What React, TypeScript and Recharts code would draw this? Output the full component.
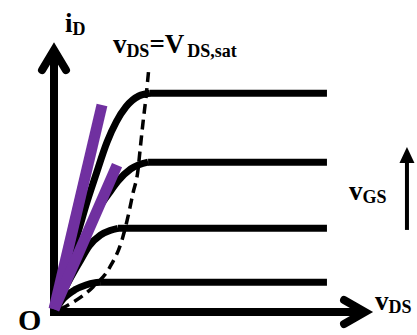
import React from "react";
import {
  ComposedChart,
  Line,
  XAxis,
  YAxis,
  ReferenceLine,
  ReferenceDot,
} from "recharts";

const WIDTH = 417;
const HEIGHT = 335;

// i_D level reached by each gate-voltage step, and the v_DS where it saturates
const satCurrents = [8.1, 5.55, 3.1, 1.1];
const satVoltages = [3.0, 2.94, 2.0, 1.44];
const vdsMax = 8.53;

// triode region of each curve, [v_DS, i_D]
const triode1 = [[0, 0], [0.35, 1.45], [0.75, 2.95], [1.05, 4.15], [1.3, 5.05], [1.66, 6.3], [1.95, 7.05], [2.25, 7.6], [2.65, 8.0]];
const triode2 = [[0, 0], [0.5, 1.55], [1.0, 2.9], [1.4, 3.85], [1.75, 4.45], [2.0, 4.85], [2.4, 5.3]];
const triode3 = [[0, 0], [0.4, 1.0], [0.8, 1.85], [1.1, 2.45], [1.45, 2.85], [1.75, 3.02]];
const triode4 = [[0, 0], [0.3, 0.5], [0.65, 0.82], [1.0, 1.0], [1.25, 1.08]];

// v_DS = V_DS,sat boundary
const satBoundary = [[0.2, 0.1], [0.34, 0.19], [1.22, 0.93], [1.75, 1.67], [2.125, 2.67], [2.31, 3.52], [2.47, 4.41], [2.625, 5.26], [2.69, 6.0], [2.78, 7.0], [2.875, 7.96], [2.97, 9.11]];

// small-signal resistance lines near the origin
const rdsLow = [[0, 0.1], [1.5, 7.67]];
const rdsHigh = [[0, 0.1], [1.97, 5.44]];

const toPoints = (pts: number[][]) => pts.map(([x, y]) => ({ x, y }));

const triodeCurves = [triode1, triode2, triode3, triode4].map((t, i) => [
  ...toPoints(t),
  { x: satVoltages[i], y: satCurrents[i] },
]);
const satLines = satCurrents.map((c, i) => [
  { x: satVoltages[i], y: c },
  { x: vdsMax, y: c },
]);

const FONT = "'Liberation Serif', 'Times New Roman', serif";
const PURPLE = "#7030A0";

const textProps = {
  fontFamily: FONT,
  fontWeight: "bold" as const,
  fill: "#000",
  fontSize: 27,
};

const SUB = 18;

function ArrowUp(p: any) {
  const { cx, cy } = p;
  return (
    <polyline
      points={`${cx - 12},${cy + 20} ${cx},${cy} ${cx + 12},${cy + 20}`}
      fill="none"
      stroke="#000"
      strokeWidth={8}
      strokeLinecap="round"
      strokeLinejoin="miter"
    />
  );
}

function ArrowRight(p: any) {
  const { cx, cy } = p;
  return (
    <polyline
      points={`${cx - 21},${cy - 12} ${cx},${cy} ${cx - 21},${cy + 12}`}
      fill="none"
      stroke="#000"
      strokeWidth={8}
      strokeLinecap="round"
      strokeLinejoin="miter"
    />
  );
}

function Head(p: any) {
  const { cx, cy } = p;
  return <polygon points={`${cx},${cy} ${cx - 7.5},${cy + 16} ${cx + 7.5},${cy + 16}`} fill="#000" />;
}

const lineCommon = {
  dataKey: "y",
  dot: false,
  activeDot: false,
  isAnimationActive: false,
} as const;

export default function App() {
  return (
    <div style={{ position: "absolute", left: 0, top: 0, width: WIDTH, height: HEIGHT, background: "#fff" }}>
      <ComposedChart
        width={WIDTH}
        height={HEIGHT}
        margin={{ top: 42, right: 43, bottom: 23, left: 54 }}
      >
        <XAxis type="number" dataKey="x" domain={[0, 10]} hide />
        <YAxis type="number" dataKey="y" domain={[0, 10]} hide />

        {/* axes */}
        <ReferenceLine segment={[{ x: -0.125, y: 0 }, { x: 9.72, y: 0 }]} stroke="#000" strokeWidth={8} ifOverflow="visible" />
        <ReferenceLine segment={[{ x: 0, y: -0.15 }, { x: 0, y: 9.7 }]} stroke="#000" strokeWidth={8} ifOverflow="visible" />
        <ReferenceDot x={0} y={9.7} r={0} ifOverflow="visible" shape={ArrowUp} />
        <ReferenceDot x={9.72} y={0} r={0} ifOverflow="visible" shape={ArrowRight} />

        {triodeCurves.map((c, i) => (
          <Line key={`t${i}`} {...lineCommon} data={c} type="monotone" stroke="#000" strokeWidth={7} />
        ))}
        {satLines.map((c, i) => (
          <Line key={`s${i}`} {...lineCommon} data={c} type="linear" stroke="#000" strokeWidth={7} />
        ))}

        <Line
          {...lineCommon}
          data={toPoints(satBoundary)}
          type="monotone"
          stroke="#000"
          strokeWidth={3.5}
          strokeDasharray="10 6"
        />

        {[rdsLow, rdsHigh].map((r, i) => (
          <Line key={`r${i}`} {...lineCommon} data={toPoints(r)} type="linear" stroke={PURPLE} strokeWidth={11} />
        ))}

        {/* v_GS direction arrow */}
        <ReferenceLine segment={[{ x: 11.03, y: 3.04 }, { x: 11.03, y: 5.55 }]} stroke="#000" strokeWidth={4} ifOverflow="visible" />
        <ReferenceDot x={11.03} y={6.11} r={0} ifOverflow="visible" shape={Head} />

        {/* labels */}
        <ReferenceDot
          x={0.34}
          y={10.37}
          r={0}
          ifOverflow="visible"
          shape={(p: any) => (
            <text x={p.cx} y={p.cy} {...textProps}>
              <tspan>i</tspan>
              <tspan fontSize={SUB} dy={3}>D</tspan>
            </text>
          )}
        />
        <ReferenceDot
          x={1.84}
          y={9.59}
          r={0}
          ifOverflow="visible"
          shape={(p: any) => (
            <text x={p.cx} y={p.cy} {...textProps}>
              <tspan>v</tspan>
              <tspan fontSize={SUB} dy={4}>DS</tspan>
              <tspan dy={-4}>=V</tspan>
              <tspan fontSize={SUB} dy={4} dx={3}>DS,sat</tspan>
            </text>
          )}
        />
        <ReferenceDot
          x={9.22}
          y={4.15}
          r={0}
          ifOverflow="visible"
          shape={(p: any) => (
            <text x={p.cx} y={p.cy} {...textProps}>
              <tspan>v</tspan>
              <tspan fontSize={SUB} dy={3}>GS</tspan>
            </text>
          )}
        />
        <ReferenceDot
          x={10.03}
          y={0.07}
          r={0}
          ifOverflow="visible"
          shape={(p: any) => (
            <text x={p.cx} y={p.cy} {...textProps}>
              <tspan>v</tspan>
              <tspan fontSize={SUB} dy={3}>DS</tspan>
            </text>
          )}
        />
        <ReferenceDot
          x={-1.125}
          y={-0.68}
          r={0}
          ifOverflow="visible"
          shape={(p: any) => (
            <text x={p.cx} y={p.cy} {...textProps} fontSize={30}>
              O
            </text>
          )}
        />
      </ComposedChart>
    </div>
  );
}
